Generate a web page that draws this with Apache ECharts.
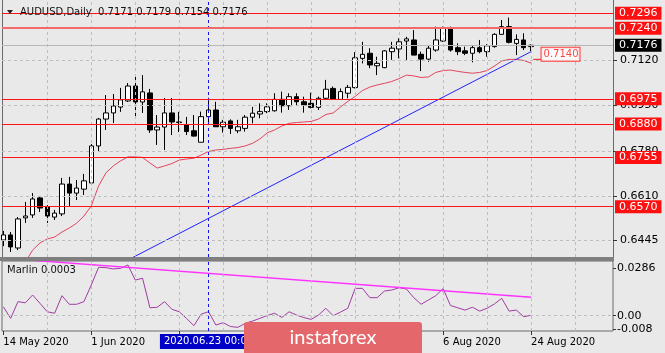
<!DOCTYPE html>
<html><head><meta charset="utf-8">
<script src="https://cdn.jsdelivr.net/npm/echarts@6/dist/echarts.min.js"></script>
<style>html,body{margin:0;padding:0;background:#e9e9e9;overflow:hidden}#c{width:665px;height:353px}</style>
</head><body><div id="c"></div>
<script>
// ---------------- data ----------------
const symbolName = 'AUDUSD';
const timeframe = 'Daily';
const opens = [
0.6445,0.6464,0.6415,0.6528,0.6539,0.6603,0.6569,0.6531,0.6543,0.6655,
0.6621,0.6636,0.6659,0.6798,0.6899,0.6922,0.6944,0.6967,0.7023,0.6963,
0.6997,0.6858,0.6869,0.6922,0.6888,0.6877,0.6855,0.6812,0.6908,0.6933,
0.6870,0.6892,0.6855,0.6864,0.6906,0.6918,0.6927,0.6930,0.6973,0.6949,
0.6983,0.6964,0.6958,0.6943,0.6977,0.7014,0.6973,0.6996,0.7017,0.7127,
0.7146,0.7099,0.7092,0.7152,0.7162,0.7192,0.7196,0.7142,0.7124,0.7158,
0.7192,0.7242,0.7167,0.7155,0.7146,0.7167,0.7152,0.7171,0.7217,0.7246,
0.7183,0.7196,0.7171];
const highs = [
0.6479,0.6475,0.6531,0.6588,0.6621,0.6610,0.6576,0.6558,0.6678,0.6682,
0.6670,0.6693,0.6805,0.6903,0.6989,0.6993,0.7016,0.7034,0.7068,0.7064,
0.7012,0.6914,0.6978,0.6978,0.6926,0.6907,0.6914,0.6927,0.6979,0.6964,
0.6896,0.6898,0.6896,0.6914,0.6945,0.6958,0.6958,0.6996,0.7002,0.6996,
0.6996,0.6983,0.6998,0.6983,0.7046,0.7021,0.7014,0.7027,0.7150,0.7189,
0.7165,0.7133,0.7158,0.7189,0.7202,0.7208,0.7233,0.7152,0.7177,0.7246,
0.7246,0.7246,0.7183,0.7171,0.7177,0.7196,0.7180,0.7221,0.7271,0.7280,
0.7217,0.7221,0.7179];
const lows = [
0.6422,0.6400,0.6407,0.6509,0.6528,0.6550,0.6509,0.6520,0.6535,0.6573,
0.6595,0.6614,0.6651,0.6775,0.6858,0.6884,0.6926,0.6963,0.6903,0.6922,
0.6847,0.6802,0.6783,0.6839,0.6850,0.6839,0.6833,0.6812,0.6877,0.6869,
0.6848,0.6843,0.6846,0.6852,0.6883,0.6902,0.6921,0.6927,0.6923,0.6933,
0.6948,0.6923,0.6939,0.6933,0.6973,0.6971,0.6971,0.6977,0.7014,0.7108,
0.7090,0.7064,0.7090,0.7121,0.7127,0.7121,0.7139,0.7079,0.7114,0.7152,
0.7189,0.7152,0.7139,0.7139,0.7112,0.7146,0.7133,0.7167,0.7215,0.7183,
0.7139,0.7158,0.7154];
const closes = [
0.6464,0.6419,0.6524,0.6535,0.6599,0.6565,0.6535,0.6546,0.6655,0.6621,
0.6640,0.6667,0.6798,0.6899,0.6922,0.6948,0.6971,0.7023,0.6963,0.7001,
0.6858,0.6869,0.6922,0.6888,0.6886,0.6852,0.6835,0.6908,0.6933,0.6870,
0.6887,0.6864,0.6870,0.6906,0.6921,0.6927,0.6945,0.6973,0.6949,0.6983,
0.6964,0.6952,0.6943,0.6977,0.7011,0.6973,0.7002,0.7018,0.7129,0.7142,
0.7102,0.7108,0.7155,0.7165,0.7189,0.7200,0.7139,0.7124,0.7165,0.7196,
0.7240,0.7158,0.7152,0.7146,0.7167,0.7152,0.7174,0.7217,0.7246,0.7187,
0.7198,0.7167,0.7176];
const maStartIndex = 3;
const maValues = [
0.6362,0.6407,0.6434,0.6449,0.6456,0.6475,0.6490,0.6508,0.6535,0.6573,
0.6648,0.6697,0.6723,0.6742,0.6757,0.6757,0.6755,0.6734,0.6715,0.6723,
0.6732,0.6745,0.6749,0.6752,0.6764,0.6777,0.6783,0.6785,0.6789,0.6792,
0.6798,0.6808,0.6824,0.6847,0.6858,0.6873,0.6883,0.6886,0.6888,0.6890,
0.6899,0.6916,0.6922,0.6944,0.6965,0.6984,0.7006,0.7019,0.7027,0.7033,
0.7040,0.7051,0.7064,0.7061,0.7055,0.7057,0.7074,0.7081,0.7083,0.7078,
0.7074,0.7071,0.7074,0.7081,0.7098,0.7117,0.7123,0.7123,0.7119,0.7109];
const marlinName = 'Marlin';
const marlinValues = [
0.0054,-0.0016,0.0085,0.0078,0.0125,0.0075,0.0024,0.0015,0.0121,0.0069,
0.0069,0.0085,0.0185,0.0292,0.0290,0.0282,0.0286,0.0306,0.0215,0.0226,
0.0048,0.0051,0.0085,0.0039,0.0024,-0.0016,-0.0060,0.0010,0.0024,-0.0056,
-0.0042,-0.0065,-0.0070,-0.0046,-0.0032,-0.0016,0.0001,0.0015,-0.0010,0.0024,
0.0004,-0.0011,-0.0022,0.0004,0.0045,0.0000,0.0022,0.0045,0.0165,0.0165,
0.0109,0.0109,0.0149,0.0155,0.0169,0.0161,0.0109,0.0069,0.0095,0.0121,
0.0164,0.0062,0.0048,0.0034,0.0051,0.0028,0.0045,0.0071,0.0105,0.0028,
0.0034,-0.0006,0.0003];
const priceTrendLine = [[17, 0.6370], [72, 0.7152]];
const marlinTrendLine = [[3, 0.0337], [72, 0.0111]];
const trendPriceLabel = 0.7140;
const trendLabelAnchor = [73.36, 0.7142];
const trendLabelLeader = [[72.3, 0.7123], [73.36, 0.7123]];
const redLevels = [0.7296, 0.7240, 0.6975, 0.6880, 0.6755, 0.6570];
const thickLevels = [0.7240];
const priceTicks = [0.7120, 0.6950, 0.6780, 0.6610, 0.6445];
const marlinTicks = [0.0286, 0];
const marlinTickText = ['0.0286', '0.00'];
const marlinMinTick = -0.008;
const marlinMinText = '-0.008';
const timeTickIndex = [0, 12, 24, 36, 48, 60, 72];
const timeTickText = ['14 May 2020', '1 Jun 2020', '17 Jun 2020', '3 Jul 2020', '21 Jul 2020', '6 Aug 2020', '24 Aug 2020'];
const timeGridIndex = [6, 12, 18, 24, 30, 36, 42, 48, 54, 60, 66, 72, 78];
const crosshairIndex = 28;
const crosshairText = '2020.06.23 00:00';

// ---------------- chart ----------------
const FONT = 'DejaVu Sans';
const X_MIN = -0.18, X_MAX = 83.18;
const Y_MAX = 0.734593, Y_MIN = 0.638115;
const M_MIN = -0.0092, M_MAX = 0.0330;
const last = closes.length - 1;
const bid = closes[last];

const candles = opens.map((o, i) => [i, o, closes[i], lows[i], highs[i]]);
const maData = maValues.map((v, k) => [k + maStartIndex, v]);
const marlinData = marlinValues.map((v, i) => [i, v]);

const gridLineStyle = {color: '#bdbdbd', type: [3, 3], width: 1};
const hiddenAxis = {axisLine: {show: false}, axisTick: {show: false}, axisLabel: {show: false}, splitLine: {show: false}};

const levelItems = redLevels.map(v => {
  const thick = thickLevels.indexOf(v) >= 0;
  return {
    yAxis: v,
    lineStyle: {color: thick ? '#f06a6a' : '#ff1515', width: thick ? 2 : 1, type: 'solid'},
    label: {show: true, position: 'end', distance: 2, formatter: v.toFixed(4), color: '#fff',
      backgroundColor: '#ff1010', padding: [1, 4, 0, 4], fontFamily: FONT, fontSize: 11, lineHeight: 12}
  };
});
levelItems.unshift({
  yAxis: bid,
  lineStyle: {color: '#b8b8b8', width: 1, type: 'solid'},
  label: {show: true, position: 'end', distance: 2, formatter: bid.toFixed(4), color: '#fff',
    backgroundColor: '#000', padding: [1, 4, 0, 4], fontFamily: FONT, fontSize: 11, lineHeight: 12}
});

const chart = echarts.init(document.getElementById('c'), null, {renderer: 'canvas'});
chart.setOption({
  animation: false,
  backgroundColor: '#e9e9e9',
  grid: [
    {left: 2, top: 0, width: 611, height: 257, show: false},
    {left: 2, top: 261, width: 611, height: 70, show: true, borderColor: '#6b6b6b', borderWidth: 1, backgroundColor: 'transparent'}
  ],
  xAxis: [
    Object.assign({type: 'value', gridIndex: 0, min: X_MIN, max: X_MAX}, hiddenAxis,
      {axisLine: {show: true, onZero: false, lineStyle: {color: '#6b6b6b'}}}),
    {type: 'value', gridIndex: 1, min: X_MIN, max: X_MAX, position: 'bottom',
      axisLine: {show: false, onZero: false},
      axisTick: {show: true, customValues: timeTickIndex, length: 4, lineStyle: {color: '#333'}},
      axisLabel: {show: true, customValues: timeTickIndex, align: 'left', margin: 6, color: '#000',
        fontFamily: FONT, fontSize: 10, showMinLabel: true, showMaxLabel: true,
        formatter: v => { const k = timeTickIndex.indexOf(v); return k >= 0 ? timeTickText[k] : ''; }},
      splitLine: {show: false}}
  ],
  yAxis: [
    {type: 'value', gridIndex: 0, position: 'right', min: Y_MIN, max: Y_MAX,
      axisLine: {show: true, onZero: false, lineStyle: {color: '#6b6b6b'}},
      axisTick: {show: true, customValues: priceTicks, length: 4, lineStyle: {color: '#333'}},
      axisLabel: {show: true, customValues: priceTicks, margin: 7, color: '#000', fontFamily: FONT, fontSize: 11,
        showMinLabel: true, showMaxLabel: true, formatter: v => v.toFixed(4)},
      splitLine: {show: false}},
    {type: 'value', gridIndex: 1, position: 'right', min: M_MIN, max: M_MAX,
      axisLine: {show: false, onZero: false},
      axisTick: {show: true, customValues: marlinTicks.concat([marlinMinTick]), length: 3, lineStyle: {color: '#333'}},
      axisLabel: {show: true, customValues: marlinTicks, margin: 4, color: '#000', fontFamily: FONT, fontSize: 11,
        showMinLabel: true, showMaxLabel: true,
        formatter: v => { const k = marlinTicks.indexOf(v); return k >= 0 ? marlinTickText[k] : ''; }},
      splitLine: {show: false}},
    Object.assign({type: 'value', gridIndex: 0, position: 'left', min: Y_MIN, max: Y_MAX}, hiddenAxis,
      {axisLine: {show: true, onZero: false, lineStyle: {color: '#6b6b6b'}}})
  ],
  series: [
    {type: 'line', xAxisIndex: 0, yAxisIndex: 0, data: [], z: 1, silent: true,
      markLine: {silent: true, precision: 6, symbol: ['none', 'none'], label: {show: false}, lineStyle: gridLineStyle,
        data: priceTicks.map(v => ({yAxis: v})).concat(timeGridIndex.map(v => ({xAxis: v})))}},
    {type: 'line', xAxisIndex: 1, yAxisIndex: 1, data: [], z: 1, silent: true,
      markLine: {silent: true, precision: 6, symbol: ['none', 'none'], label: {show: false}, lineStyle: gridLineStyle,
        data: [{yAxis: 0}].concat(timeGridIndex.map(v => ({xAxis: v}))).concat([{
          yAxis: marlinMinTick, lineStyle: {color: 'transparent', width: 0},
          label: {show: true, position: 'end', distance: 4, formatter: marlinMinText, color: '#000',
            fontFamily: FONT, fontSize: 11, lineHeight: 12, padding: [0, 0, 9, 0]}
        }])}},
    {type: 'candlestick', xAxisIndex: 0, yAxisIndex: 0, data: candles, barWidth: 5, z: 3,
      itemStyle: {color: '#ffffff', color0: '#000000', borderColor: '#000000', borderColor0: '#000000', borderWidth: 1},
      markLine: {silent: true, precision: 6, symbol: ['none', 'none'], label: {show: false},
        lineStyle: {color: '#1010ff', type: [3, 3], width: 1}, data: [{xAxis: crosshairIndex}]}},
    {type: 'line', xAxisIndex: 0, yAxisIndex: 0, data: maData, showSymbol: false, z: 4, silent: true,
      lineStyle: {color: '#e2445e', width: 1}},
    {type: 'line', xAxisIndex: 0, yAxisIndex: 0, data: priceTrendLine, showSymbol: false, z: 4, silent: true,
      lineStyle: {color: '#2222ff', width: 1}},
    {type: 'line', xAxisIndex: 0, yAxisIndex: 0, data: [], z: 5, silent: true,
      markLine: {silent: true, precision: 6, symbol: ['none', 'none'], data: levelItems}},
    {type: 'line', xAxisIndex: 0, yAxisIndex: 0, data: trendLabelLeader, showSymbol: false, z: 5, silent: true,
      lineStyle: {color: '#ff1515', width: 1}},
    {type: 'scatter', xAxisIndex: 0, yAxisIndex: 0, data: [trendLabelAnchor], symbolSize: 1, z: 6, silent: true,
      itemStyle: {color: 'transparent'},
      label: {show: true, position: 'right', distance: 0, formatter: trendPriceLabel.toFixed(4), color: '#ff1515',
        backgroundColor: '#ffffff', borderColor: '#ff1515', borderWidth: 1, padding: [1, 1, 1, 2],
        fontFamily: FONT, fontSize: 10, lineHeight: 11}},
    {type: 'line', xAxisIndex: 1, yAxisIndex: 1, data: marlinData, showSymbol: false, z: 3, silent: true,
      lineStyle: {color: '#a03ca4', width: 1},
      markLine: {silent: true, precision: 6, symbol: ['none', 'none'],
        lineStyle: {color: '#1010ff', type: [3, 3], width: 1},
        label: {show: true, position: 'start', distance: 3, formatter: crosshairText, color: '#fff',
          backgroundColor: '#0000c8', padding: [2, 4, 2, 4], fontFamily: FONT, fontSize: 10, lineHeight: 11},
        data: [{xAxis: crosshairIndex}]}},
    {type: 'line', xAxisIndex: 1, yAxisIndex: 1, data: marlinTrendLine, showSymbol: false, z: 4, silent: true,
      lineStyle: {color: '#ff33ff', width: 1.5}}
  ],
  graphic: [
    {type: 'rect', shape: {x: 0, y: 257, width: 614, height: 4}, style: {fill: '#7f7f7f'}, z: 50, silent: true},
    {type: 'polygon', shape: {points: [[7, 10], [13, 10], [10, 14]]}, style: {fill: '#222'}, z: 50, silent: true},
    {type: 'text', x: 20, y: 12.5, z: 50, silent: true,
      style: {text: symbolName + ',' + timeframe + '  ' + opens[last].toFixed(4) + ' ' + highs[last].toFixed(4) + ' ' + lows[last].toFixed(4) + ' ' + closes[last].toFixed(4),
        font: '10px "DejaVu Sans"', fill: '#111', textVerticalAlign: 'middle'}},
    {type: 'text', x: 7, y: 270, z: 50, silent: true,
      style: {text: marlinName + ' ' + marlinValues[last].toFixed(4), font: '10px "DejaVu Sans"', fill: '#111', textVerticalAlign: 'middle'}},
    {type: 'rect', z: 200, zlevel: 1, silent: true, shape: {x: 244, y: 322, width: 178, height: 34, r: 3}, style: {fill: '#e4686b'}},
    {type: 'text', z: 201, zlevel: 1, silent: true, x: 333, y: 338, style: {text: 'instaforex', font: '20px Lato', fill: '#ffffff', textAlign: 'center', textVerticalAlign: 'middle'}}
  ]
});
</script>
</body></html>
